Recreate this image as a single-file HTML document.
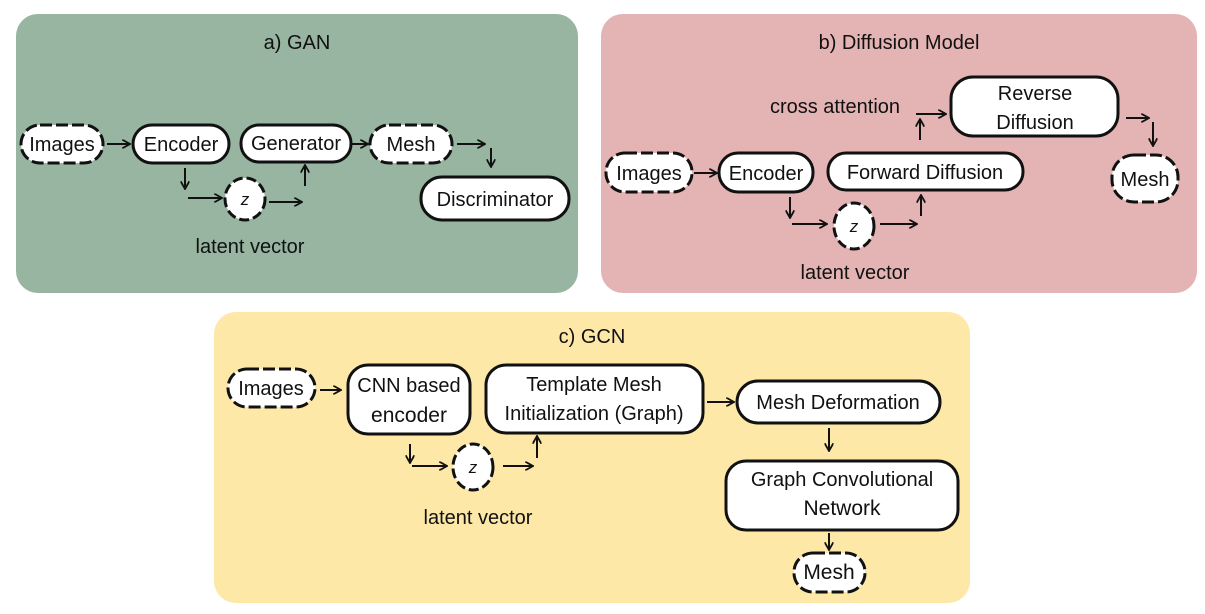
<!DOCTYPE html>
<html><head><meta charset="utf-8"><style>
html,body{margin:0;padding:0;background:#fff;}
svg{display:block;}
text{font-family:"Liberation Sans",sans-serif;fill:#111;}
</style></head><body>
<svg width="1205" height="614" viewBox="0 0 1205 614" xmlns="http://www.w3.org/2000/svg">
<defs>
<marker id="ah" markerWidth="9" markerHeight="9" refX="7" refY="4.5" orient="auto" markerUnits="userSpaceOnUse">
<path d="M0,0 L8,4.5 L0,9" fill="none" stroke="#111" stroke-width="1.8"/>
</marker>
</defs>
<rect x="16" y="14" width="562" height="279" rx="22" fill="#97b5a0"/>
<rect x="601" y="14" width="596" height="279" rx="22" fill="#e4b3b3"/>
<rect x="214" y="312" width="756" height="291" rx="22" fill="#fde8a8"/>

<g font-size="20" text-anchor="middle">
<text x="297" y="49">a) GAN</text>
<text x="899" y="49">b) Diffusion Model</text>
<text x="592" y="343">c) GCN</text>
</g>

<g fill="#fff" stroke="#111" stroke-width="3">
<rect x="21" y="125" width="82" height="38" rx="19" stroke-dasharray="12 4"/>
<rect x="133" y="125" width="96" height="38" rx="19"/>
<rect x="241" y="125" width="110" height="37" rx="18"/>
<rect x="370" y="125" width="82" height="38" rx="19" stroke-dasharray="12 4"/>
<rect x="421" y="177" width="148" height="43" rx="21"/>
<ellipse cx="245" cy="199" rx="20" ry="21" stroke-dasharray="10 4"/>
<rect x="606" y="153" width="86" height="39" rx="19" stroke-dasharray="12 4"/>
<rect x="719" y="153" width="94" height="39" rx="19"/>
<rect x="828" y="153" width="195" height="37" rx="18"/>
<rect x="951" y="77" width="167" height="59" rx="22"/>
<rect x="1112" y="155" width="66" height="47" rx="22" stroke-dasharray="12 4"/>
<ellipse cx="854" cy="226" rx="20" ry="23" stroke-dasharray="10 4"/>
<rect x="228" y="369" width="87" height="38" rx="19" stroke-dasharray="12 4"/>
<rect x="348" y="365" width="122" height="69" rx="20"/>
<rect x="486" y="365" width="217" height="68" rx="20"/>
<rect x="737" y="381" width="203" height="42" rx="21"/>
<rect x="726" y="461" width="232" height="69" rx="20"/>
<rect x="794" y="553" width="71" height="39" rx="19" stroke-dasharray="12 4"/>
<ellipse cx="473" cy="467" rx="20" ry="23" stroke-dasharray="10 4"/>
</g>

<g font-size="20" text-anchor="middle">
<text x="62" y="151">Images</text>
<text x="181" y="151">Encoder</text>
<text x="296" y="150">Generator</text>
<text x="411" y="151">Mesh</text>
<text x="495" y="206">Discriminator</text>
<text x="245" y="205" font-size="17" font-style="italic">z</text>
<text x="250" y="253">latent vector</text>

<text x="649" y="180">Images</text>
<text x="766" y="180">Encoder</text>
<text x="925" y="179">Forward Diffusion</text>
<text x="1035" y="100">Reverse</text>
<text x="1035" y="129">Diffusion</text>
<text x="1145" y="186">Mesh</text>
<text x="854" y="232" font-size="17" font-style="italic">z</text>
<text x="835" y="113">cross attention</text>
<text x="855" y="279">latent vector</text>

<text x="271" y="395">Images</text>
<text x="409" y="392">CNN based</text>
<text x="409" y="422" font-size="21">encoder</text>
<text x="594" y="391">Template Mesh</text>
<text x="594" y="420">Initialization (Graph)</text>
<text x="838" y="409">Mesh Deformation</text>
<text x="842" y="486">Graph Convolutional</text>
<text x="842" y="515" font-size="21">Network</text>
<text x="829" y="579" font-size="21">Mesh</text>
<text x="473" y="473" font-size="17" font-style="italic">z</text>
<text x="478" y="524">latent vector</text>
</g>

<g stroke="#111" stroke-width="2" fill="none" marker-end="url(#ah)">
<line x1="107" y1="144" x2="129" y2="144"/>
<line x1="351" y1="144" x2="367" y2="144"/>
<line x1="457" y1="144" x2="484" y2="144"/>
<line x1="491" y1="148" x2="491" y2="166"/>
<line x1="185" y1="168" x2="185" y2="188"/>
<line x1="188" y1="198" x2="221" y2="198"/>
<line x1="269" y1="202" x2="301" y2="202"/>
<line x1="305" y1="186" x2="305" y2="166"/>
<line x1="694" y1="173" x2="716" y2="173"/>
<line x1="790" y1="197" x2="790" y2="217"/>
<line x1="792" y1="224" x2="826" y2="224"/>
<line x1="880" y1="224" x2="916" y2="224"/>
<line x1="921" y1="216" x2="921" y2="196"/>
<line x1="920" y1="140" x2="920" y2="120"/>
<line x1="916" y1="114" x2="945" y2="114"/>
<line x1="1126" y1="118" x2="1148" y2="118"/>
<line x1="1153" y1="122" x2="1153" y2="145"/>
<line x1="320" y1="390" x2="340" y2="390"/>
<line x1="410" y1="444" x2="410" y2="462"/>
<line x1="412" y1="466" x2="446" y2="466"/>
<line x1="503" y1="466" x2="532" y2="466"/>
<line x1="537" y1="458" x2="537" y2="437"/>
<line x1="707" y1="402" x2="733" y2="402"/>
<line x1="829" y1="428" x2="829" y2="450"/>
<line x1="829" y1="533" x2="829" y2="549"/>
</g>
</svg>
</body></html>
